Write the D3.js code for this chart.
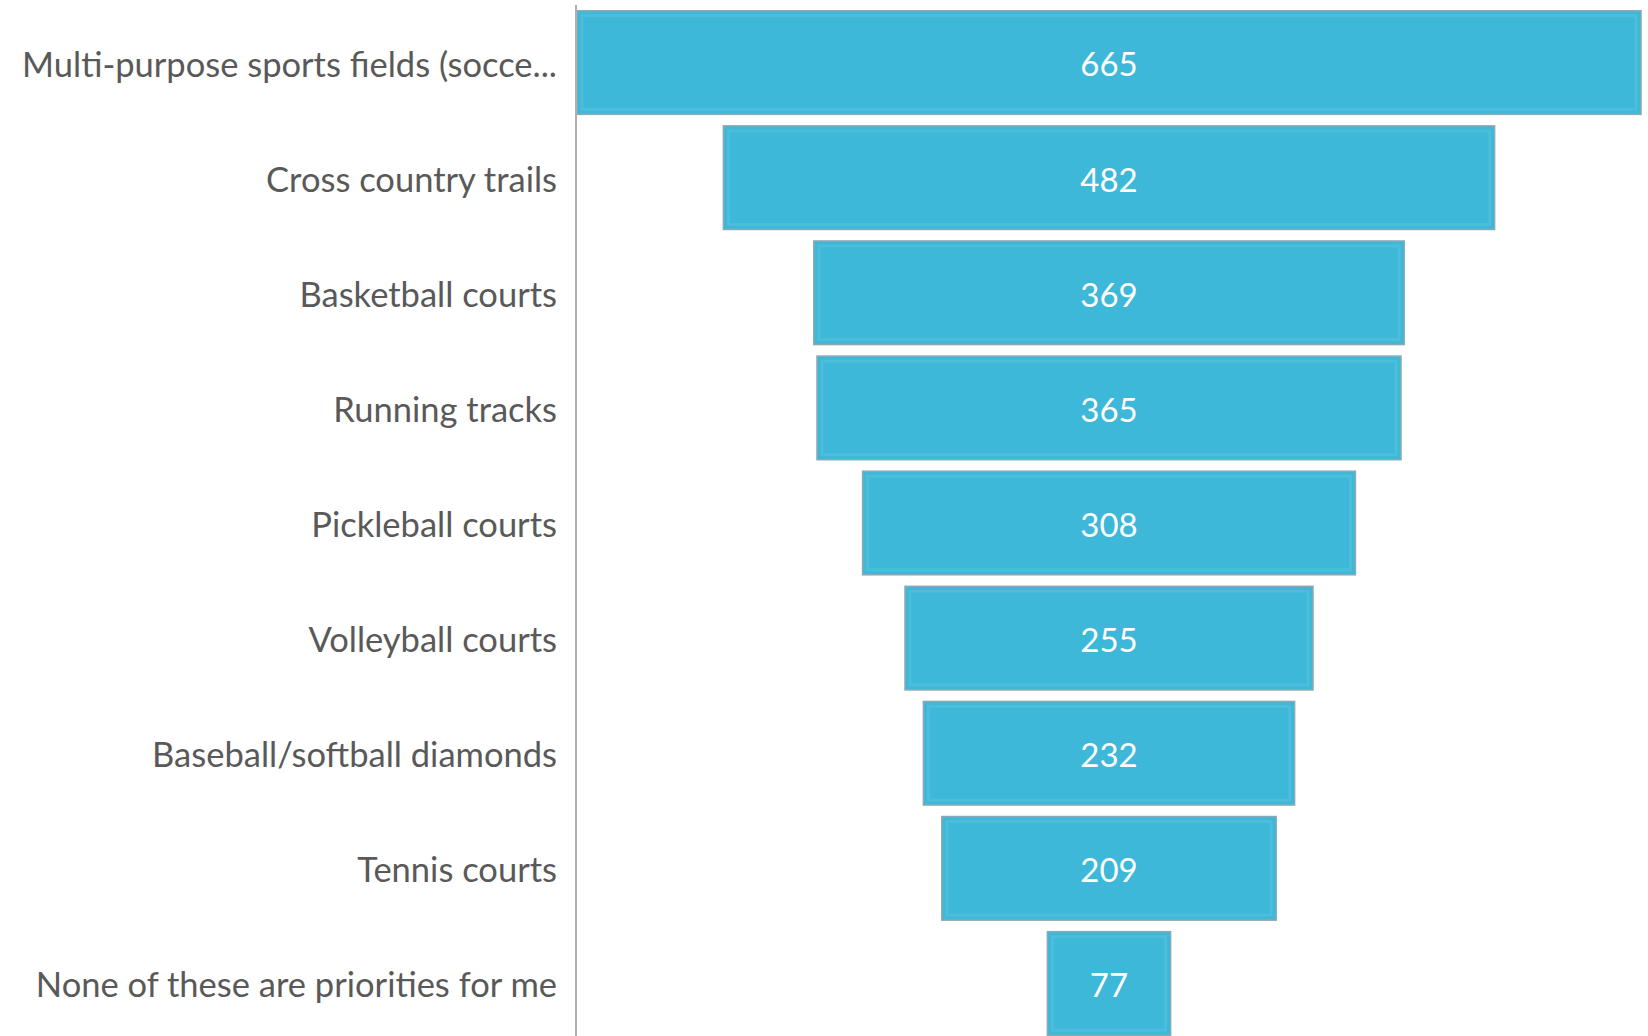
<!DOCTYPE html>
<html>
<head>
<meta charset="utf-8">
<script src="https://cdn.jsdelivr.net/npm/d3@7"></script>
<style>
  html, body { margin: 0; padding: 0; background: #ffffff; }
  svg { display: block; }
</style>
</head>
<body>
<svg id="chart" width="1648" height="1036"></svg>
<script>
// Facility priorities: number of responses per option
const categories = [
  "Multi-purpose sports fields (socce...",
  "Cross country trails",
  "Basketball courts",
  "Running tracks",
  "Pickleball courts",
  "Volleyball courts",
  "Baseball/softball diamonds",
  "Tennis courts",
  "None of these are priorities for me"
];
const values = [665, 482, 369, 365, 308, 255, 232, 209, 77];

const W = 1648, H = 1036;
const axisX = 576;          // vertical category axis
const centerX = 1109;       // funnel centre line
const maxWidth = 1064;      // width of the largest bar

const svg = d3.select("#chart");

const y = d3.scaleBand()
  .domain(categories)
  .range([5, 1041])
  .paddingInner(0.1)
  .paddingOuter(0.05);

const w = d3.scaleLinear()
  .domain([0, d3.max(values)])
  .range([0, maxWidth]);

const rows = categories.map((c, i) => ({ cat: c, val: values[i] }));

// bars, centred on the funnel axis
const bar = svg.append("g").selectAll("g")
  .data(rows)
  .join("g");

bar.append("rect")
  .attr("x", d => centerX - w(d.val) / 2)
  .attr("y", d => y(d.cat))
  .attr("width", d => w(d.val))
  .attr("height", y.bandwidth())
  .attr("fill", "#3db8d8")
  .attr("stroke", "#8aa9b2")
  .attr("stroke-width", 1.5);

// soft inner bevel
bar.append("rect")
  .attr("x", d => centerX - w(d.val) / 2 + 5)
  .attr("y", d => y(d.cat) + 5)
  .attr("width", d => Math.max(0, w(d.val) - 10))
  .attr("height", y.bandwidth() - 10)
  .attr("fill", "none")
  .attr("stroke", "rgba(255,255,255,0.08)")
  .attr("stroke-width", 3);

// value labels
bar.append("text")
  .attr("x", centerX)
  .attr("y", d => y(d.cat) + y.bandwidth() / 2 + 2)
  .attr("dy", "0.36em")
  .attr("text-anchor", "middle")
  .attr("font-family", "Lato, 'Open Sans', sans-serif")
  .attr("font-size", 33)
  .attr("fill", "#ffffff")
  .text(d => d.val);

// category axis
const axis = d3.axisLeft(y).tickSize(0).tickPadding(19);
const ag = svg.append("g")
  .attr("transform", `translate(${axisX},0)`)
  .call(axis);
ag.select(".domain")
  .attr("d", `M0,5V${H}`)
  .attr("stroke", "#b0b0b0")
  .attr("stroke-width", 2);
ag.selectAll(".tick text")
  .attr("y", 3)
  .attr("font-family", "Lato, 'Open Sans', sans-serif")
  .attr("font-size", 34.5)
  .attr("fill", "#595959");
</script>
</body>
</html>
